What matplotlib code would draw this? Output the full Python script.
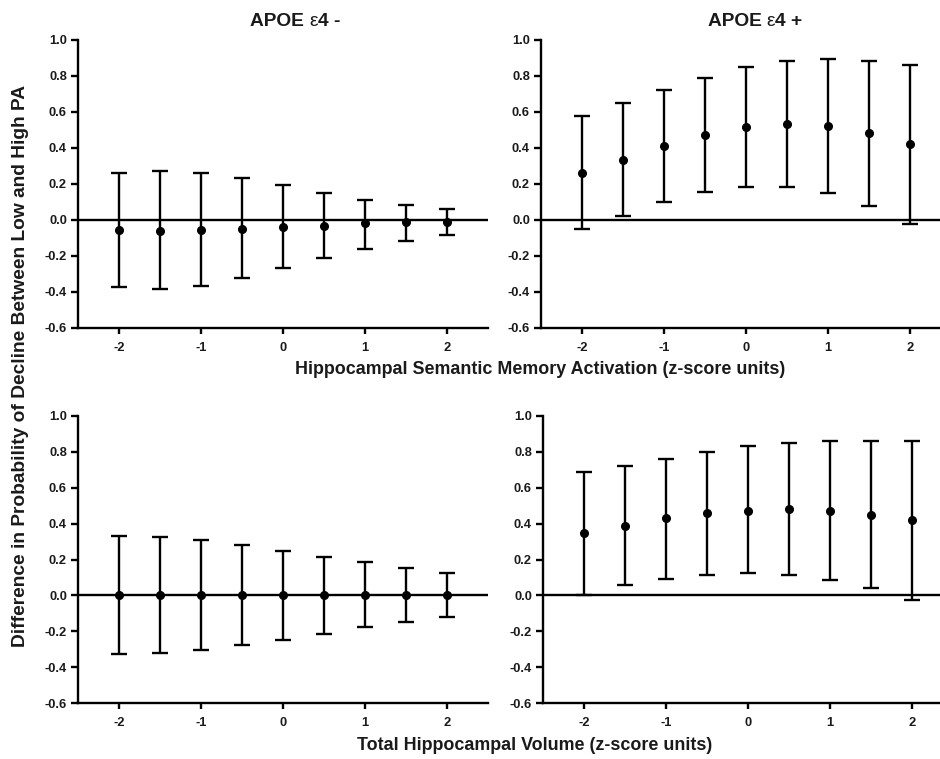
import matplotlib
matplotlib.use("Agg")
import matplotlib.pyplot as plt
import numpy as np

plt.rcParams['font.family'] = ['Liberation Sans', 'DejaVu Sans']
plt.rcParams['font.weight'] = 'bold'

x_vals = [-2, -1.5, -1, -0.5, 0, 0.5, 1, 1.5, 2]

# Top-left: Hippocampal semantic memory activation, APOE e4 -
tl_mean = [-0.056, -0.059, -0.056, -0.048, -0.041, -0.031, -0.019, -0.013, -0.009]
tl_upper = [0.263, 0.270, 0.259, 0.231, 0.194, 0.150, 0.113, 0.083, 0.061]
tl_lower = [-0.372, -0.385, -0.369, -0.322, -0.269, -0.211, -0.159, -0.115, -0.083]

# Top-right: Hippocampal semantic memory activation, APOE e4 +
tr_mean = [0.263, 0.335, 0.409, 0.472, 0.515, 0.533, 0.520, 0.481, 0.420]
tr_upper = [0.576, 0.650, 0.720, 0.791, 0.852, 0.885, 0.894, 0.885, 0.863]
tr_lower = [-0.052, 0.022, 0.098, 0.156, 0.181, 0.181, 0.148, 0.078, -0.020]

# Bottom-left: Total hippocampal volume, APOE e4 -
bl_mean = [0.0, 0.0, 0.0, 0.0, 0.0, 0.0, 0.0, 0.0, 0.0]
bl_upper = [0.331, 0.323, 0.307, 0.283, 0.250, 0.216, 0.185, 0.152, 0.124]
bl_lower = [-0.327, -0.322, -0.303, -0.275, -0.246, -0.214, -0.177, -0.148, -0.118]

# Bottom-right: Total hippocampal volume, APOE e4 +
br_mean = [0.346, 0.388, 0.429, 0.457, 0.473, 0.481, 0.470, 0.449, 0.418]
br_upper = [0.686, 0.721, 0.760, 0.800, 0.830, 0.850, 0.860, 0.861, 0.861]
br_lower = [0.004, 0.057, 0.094, 0.116, 0.122, 0.111, 0.083, 0.039, -0.024]

x_ticks = [-2, -1, 0, 1, 2]
x_ticklabels = ['-2', '-1', '0', '1', '2']
y_ticks = [-0.6, -0.4, -0.2, 0.0, 0.2, 0.4, 0.6, 0.8, 1.0]
y_ticklabels = ['-0.6', '-0.4', '-0.2', '0.0', '0.2', '0.4', '0.6', '0.8', '1.0']

# Title pieces: (text, weight) so the epsilon can be drawn thin as in the original
titles = [
    [('APOE ', 'bold'), ('\u03b5', 'normal'), ('4 -', 'bold')],
    [('APOE ', 'bold'), ('\u03b5', 'normal'), ('4 +', 'bold')],
]
xlabel_top = 'Hippocampal Semantic Memory Activation (z-score units)'
xlabel_bottom = 'Total Hippocampal Volume (z-score units)'
ylabel = 'Difference in Probability of Decline Between Low and High PA'

W, H = 940, 759
fig = plt.figure(figsize=(W / 100, H / 100), dpi=100)

def px_axes(left, right, top, bottom):
    return fig.add_axes([left / W, 1 - bottom / H, (right - left) / W, (bottom - top) / H])

positions = [
    (78, 488, 40, 328),
    (541, 951, 40, 328),
    (78, 488, 416, 703),
    (543, 953, 416, 703),
]
data = [
    (tl_mean, tl_upper, tl_lower),
    (tr_mean, tr_upper, tr_lower),
    (bl_mean, bl_upper, bl_lower),
    (br_mean, br_upper, br_lower),
]

txt_color = '#1a1a1a'
lw = 1.7
for pos, (m, u, l) in zip(positions, data):
    ax = px_axes(*pos)
    m = np.array(m); u = np.array(u); l = np.array(l)
    ax.axhline(0, color='black', lw=lw, zorder=1)
    ax.errorbar(x_vals, m, yerr=[m - l, u - m], fmt='o', color='black',
                ms=5.5, elinewidth=lw, capsize=5.5, capthick=lw, zorder=3)
    ax.set_xlim(-2.5, 2.5)
    ax.set_ylim(-0.6, 1.0)
    ax.set_xticks(x_ticks)
    ax.set_xticklabels(x_ticklabels)
    ax.set_yticks(y_ticks)
    ax.set_yticklabels(y_ticklabels)
    for s in ['top', 'right']:
        ax.spines[s].set_visible(False)
    for s in ['left', 'bottom']:
        ax.spines[s].set_linewidth(lw)
    ax.tick_params(axis='both', direction='out', width=lw,
                   labelsize=9.3, colors='black', labelcolor=txt_color)
    ax.tick_params(axis='x', length=4, pad=6)
    ax.tick_params(axis='y', length=5, pad=3)
    for t in ax.get_xticklabels() + ax.get_yticklabels():
        t.set_fontweight('bold')

renderer = fig.canvas.get_renderer()

def piece_title(pieces, cx_px, cy_px, size):
    # measure widths, then place pieces left to right centred on cx_px
    widths = []
    for txt, wt in pieces:
        t = fig.text(0, 0, txt.replace(' ', '\u00a0'), fontsize=size, fontweight=wt)
        widths.append(t.get_window_extent(renderer).width)
        t.remove()
    total = sum(widths)
    x = cx_px - total / 2
    for (txt, wt), w in zip(pieces, widths):
        fig.text(x / W, 1 - cy_px / H, txt.replace(' ', '\u00a0'), ha='left', va='center',
                 fontsize=size, fontweight=wt, color=txt_color)
        x += w

piece_title(titles[0], 295.5, 22, 13.8)
piece_title(titles[1], 755, 22, 13.8)

fig.text(540 / W, 1 - 370 / H, xlabel_top, ha='center', va='center',
         fontsize=12.9, fontweight='bold', color=txt_color)
fig.text(535 / W, 1 - 746 / H, xlabel_bottom, ha='center', va='center',
         fontsize=12.9, fontweight='bold', color=txt_color)
fig.text(21 / W, 1 - 366 / H, ylabel, ha='center', va='center', rotation=90,
         fontsize=13.8, fontweight='bold', color=txt_color)

fig.savefig('out.png', dpi=100)
